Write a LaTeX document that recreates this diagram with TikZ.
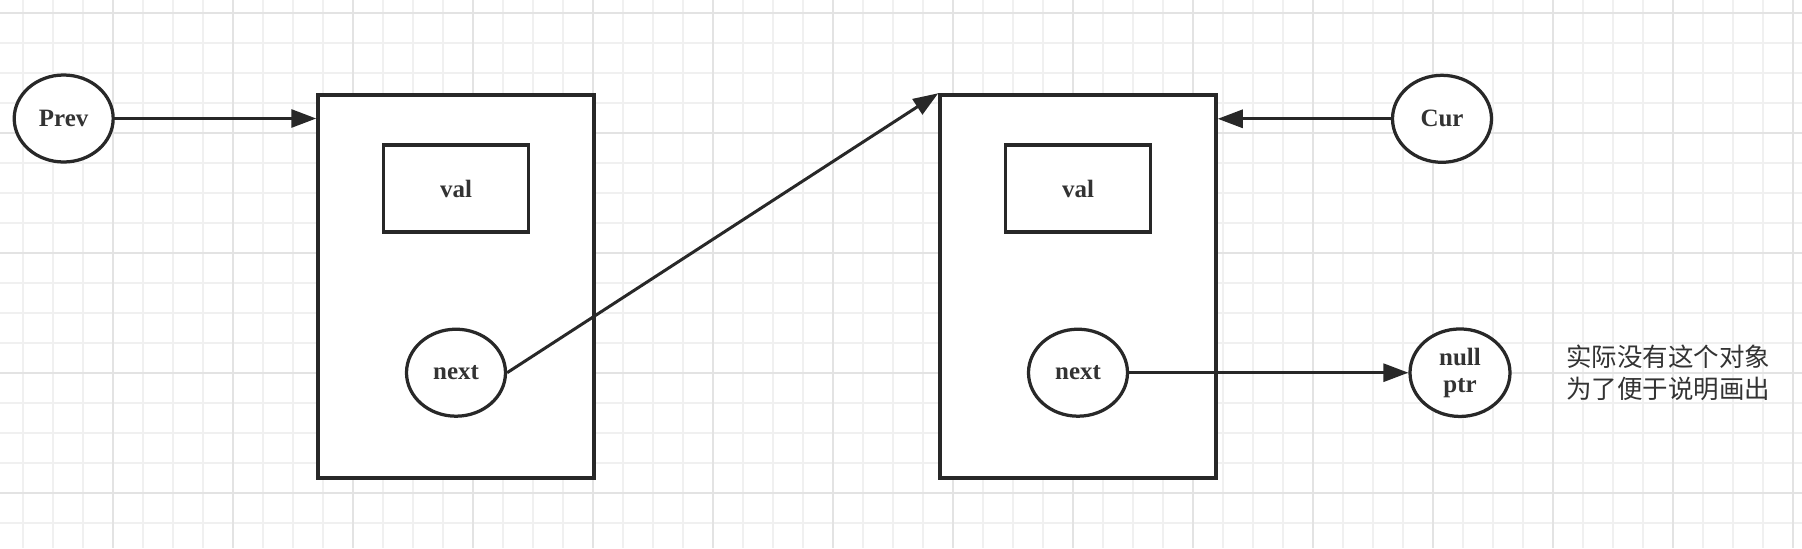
\documentclass[tikz,border=0pt]{standalone}
\usepackage{fontspec}
\setmainfont{Liberation Serif}
\newfontfamily\cjk{Noto Sans CJK SC}
\usepackage{tikz}
\usetikzlibrary{shapes,arrows.meta,positioning,calc}

\definecolor{inkc}{RGB}{40,40,40}
\definecolor{textc}{RGB}{51,51,51}
\definecolor{gridminor}{RGB}{240,240,240}
\definecolor{gridmajor}{RGB}{227,227,227}

\begin{document}
\begin{tikzpicture}[node distance=2cm,>={Triangle[length=0.5cm,width=0.36cm]},
  txt/.style={font=\fontsize{14.2}{16}\selectfont\bfseries,text=textc},
  obj/.style={draw=inkc,line width=0.07cm,fill=white,rectangle,minimum width=5.52cm,minimum height=7.66cm},
  field/.style={draw=inkc,line width=0.065cm,fill=white,rectangle,minimum width=2.9cm,minimum height=1.74cm,txt},
  ptr/.style={draw=inkc,line width=0.065cm,fill=white,ellipse,minimum width=1.98cm,minimum height=1.74cm,inner sep=0pt,txt},
  link/.style={->,draw=inkc,line width=0.06cm}]
\useasboundingbox (0,0) rectangle (36.04,-10.96);
% grid paper
\foreach \i in {0,...,59}
  \draw[gridminor,line width=0.034cm] ({0.454+0.6*\i},0) -- ++(0,-10.96);
\foreach \j in {0,...,17}
  \draw[gridminor,line width=0.034cm] (0,{-0.254-0.6*\j}) -- ++(36.04,0);
\foreach \i in {0,...,14}
  \draw[gridmajor,line width=0.044cm] ({2.254+2.4*\i},0) -- ++(0,-10.96);
\foreach \j in {0,...,4}
  \draw[gridmajor,line width=0.044cm] (0,{-0.254-2.4*\j}) -- ++(36.04,0);

% list nodes
\node[obj] (node1) at (9.12,-5.73) {};
\node[field,above of=node1,node distance=1.96cm] (val1) {val};
\node[ptr,below of=node1,node distance=1.724cm] (next1) {next};
\node[obj,right of=node1,node distance=12.44cm] (node2) {};
\node[field,above of=node2,node distance=1.96cm] (val2) {val};
\node[ptr,below of=node2,node distance=1.724cm] (next2) {next};

% pointers
\node[ptr] (prev) at (1.274,-2.37) {Prev};
\node[ptr] (cur) at (28.84,-2.376) {Cur};
\node[ptr,align=center,minimum width=2cm,minimum height=1.75cm,font=\fontsize{14.2}{15.5}\selectfont\bfseries,right of=next2,node distance=7.64cm] (null) {null\\ptr};
\node[right=1.09cm of null,inner sep=0pt,align=left,text=textc,font=\cjk\fontsize{14.5}{18.2}\selectfont] (note) {实际没有这个对象\\为了便于说明画出};

\draw[link] (prev) -- (prev -| node1.west);
\draw[link] (next1.east) -- (node2.north west);
\draw[link] (cur) -- (cur -| node2.east);
\draw[link] (next2) -- (null);
\end{tikzpicture}
\end{document}
